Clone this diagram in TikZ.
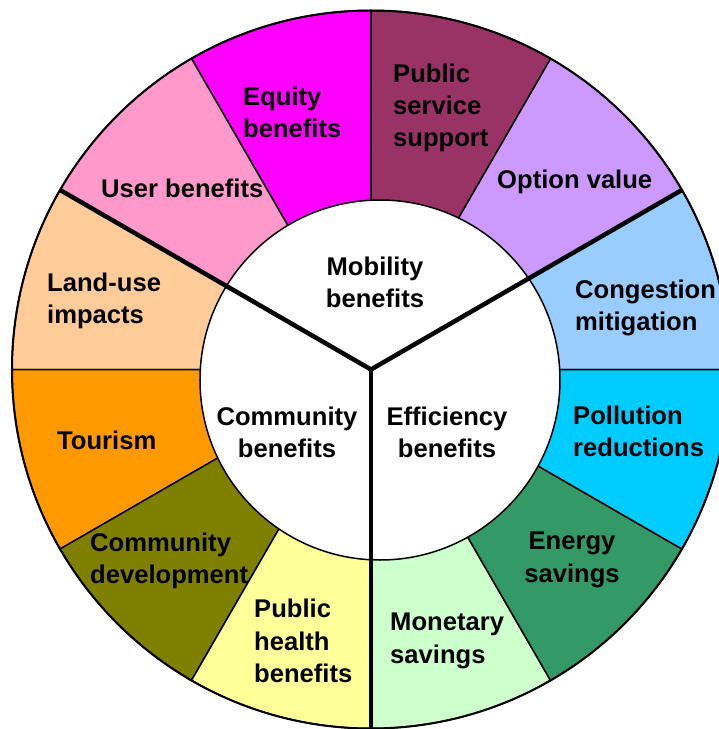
\documentclass[tikz,border=0pt]{standalone}
\usepackage{fontspec}
\setmainfont{Liberation Sans}
\usetikzlibrary{positioning}

\definecolor{congcol}{HTML}{99CCFF}
\definecolor{optcol}{HTML}{CC99FF}
\definecolor{pubcol}{HTML}{993366}
\definecolor{equitycol}{HTML}{FF00FF}
\definecolor{usercol}{HTML}{FF99CC}
\definecolor{landcol}{HTML}{FFCC99}
\definecolor{tourcol}{HTML}{FF9900}
\definecolor{commdevcol}{HTML}{808000}
\definecolor{healthcol}{HTML}{FFFF99}
\definecolor{moncol}{HTML}{CCFFCC}
\definecolor{energycol}{HTML}{339966}
\definecolor{pollcol}{HTML}{00CCFF}

\tikzset{
  seglabel/.style={font=\bfseries\fontsize{25.6}{32.3}\selectfont, align=left, anchor=west, inner sep=0pt},
  hublabel/.style={font=\bfseries\fontsize{25.6}{32.3}\selectfont, align=center, inner sep=0pt},
  spoke/.style={line width=4.5pt}
}

\begin{document}
\begin{tikzpicture}[x=1pt,y=1pt]
\useasboundingbox (-371,-359.5) rectangle (348,369.5);
\clip (-371,-359.5) rectangle (348,369.5);

% Outer ring
\foreach \a/\c in {0/congcol,30/optcol,60/pubcol,90/equitycol,120/usercol,150/landcol,
                   180/tourcol,210/commdevcol,240/healthcol,270/moncol,300/energycol,330/pollcol} {
    \filldraw[fill=\c, draw=black, line width=1.5pt] (0,0) -- (\a:359)
        arc[start angle=\a, end angle=\a+30, radius=359] -- cycle;
}
\draw[line width=2pt] (0,0) circle (359);

% Inner disc (sits a little off the hub)
\filldraw[fill=white, draw=black, line width=1.5pt] (9,-10.5) circle (180);

% Three thick spokes
\coordinate (hub) at (0,0);
\draw[spoke] (30:359) -- (hub) -- (150:359);
\draw[spoke] (hub) -- (270:359);

% Ring labels
\node[seglabel] (equity) at (-128,257.5) {Equity\\benefits};
\node[seglabel] (pubserv) at (22,261.5) {Public\\service\\support};
\node[seglabel] (option) at (126,187.5) {Option value};
\node[seglabel] (user) at (-270,181.5) {User benefits};
\node[seglabel] (landuse) at (-324,68.5) {Land-use\\impacts};
\node[seglabel] (congest) at (204,61.5) {Congestion\\mitigation};
\node[seglabel] (tourism) at (-314,-70.5) {Tourism};
\node[seglabel] (pollut) at (202,-62) {Pollution\\reductions};
\node[seglabel] (commdev) at (-281,-191.5) {Community\\development};
\node[hublabel] (energy) at (201,-190.5) {Energy\\savings};
\node[seglabel] (health) at (-117,-271.5) {Public\\health\\benefits};
\node[seglabel] (monetary) at (19,-271.5) {Monetary\\savings};

% Hub labels
\node[hublabel] (mobility) at (4,87.5) {Mobility\\benefits};
\node[hublabel] (community) at (-84,-62.5) {Community\\benefits};
\node[hublabel] (efficiency) at (76,-62.5) {Efficiency\\benefits};
\end{tikzpicture}
\end{document}
